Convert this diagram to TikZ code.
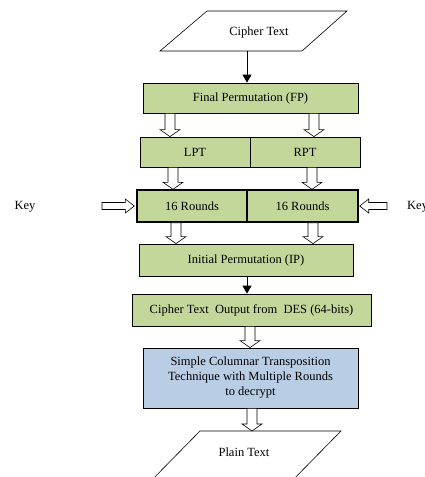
\documentclass[tikz,border=0pt]{standalone}
\usepackage{fontspec}
\setmainfont{Liberation Serif}
\usetikzlibrary{calc,arrows.meta}
\definecolor{boxgreen}{HTML}{C4D79B}
\definecolor{boxblue}{HTML}{B9CDE5}
\newcommand\blockarrow[5]{%
  \coordinate (ba-h) at ($(#2)!#5!(#1)$);
  \filldraw[fill=white,line width=0.6pt]
    ($(#1)!#3!90:(#2)$) -- ($(ba-h)!#3!90:(#2)$) -- ($(ba-h)!#4!90:(#2)$) -- (#2)
    -- ($(ba-h)!#4!-90:(#2)$) -- ($(ba-h)!#3!-90:(#2)$) -- ($(#1)!#3!-90:(#2)$) -- cycle;}
\newcommand\vblock[2]{\blockarrow{#1}{#2}{5pt}{10pt}{7pt}}
\newcommand\hblock[2]{\blockarrow{#1}{#2}{3.5pt}{7pt}{9pt}}
\tikzset{
  txt/.style={font=\fontsize{12.5}{15}\selectfont, inner sep=0pt, align=center},
  gbox/.style={txt, draw, fill=boxgreen, line width=0.8pt},
  thickbox/.style={gbox, line width=1.4pt},
  bbox/.style={txt, draw, fill=boxblue, line width=0.8pt},
  slim/.style={-{Triangle[length=8pt,width=9pt]}, line width=0.8pt},
  shape outline/.style={draw, line width=0.6pt}
}
\begin{document}
\begin{tikzpicture}[x=1pt,y=-1pt]
\useasboundingbox (0,0) rectangle (425,477);
\clip (0,0) rectangle (425,477);
% Cipher text parallelogram
\draw[shape outline] (207,11) -- (347,11) -- (302,51) -- (160,51) -- cycle;
\node[txt] (cipher) at (259,32) {Cipher Text};
\coordinate (cipherout) at (247,51);
% boxes
\node[gbox, minimum width=215, minimum height=30] (fp) at (250.5,98) {Final Permutation (FP)};
\node[gbox, minimum width=110, minimum height=30] (lpt) at (195,152) {LPT};
\node[gbox, minimum width=110, minimum height=30] (rpt) at (305,152) {RPT};
\node[thickbox, minimum width=110, minimum height=32] (r1) at (192,206) {16 Rounds};
\node[thickbox, minimum width=111, minimum height=32] (r2) at (302.5,206) {16 Rounds};
\node[gbox, minimum width=214, minimum height=32] (ip) at (246,260) {Initial Permutation (IP)};
\node[gbox, minimum width=239, minimum height=32] (ct) at (251.5,310) {Cipher Text\ \ Output from\ \ DES (64-bits)};
\node[bbox, minimum width=215, minimum height=60] (blue) at (250.5,378)
  {Simple Columnar Transposition\\Technique with Multiple Rounds\\to decrypt};
% Plain text parallelogram
\draw[shape outline] (200,431) -- (341,431) -- (283,490) -- (142,490) -- cycle;
\node[txt] (plain) at (244,452) {Plain Text};
\coordinate (plaintop) at (270,431);
% keys
\node[txt] (keyl) at (25,207) {Key};
\node[txt, anchor=west] (keyr) at (407,207) {Key};
\coordinate (kls) at (102,206);
\coordinate (krs) at (387,206);
% connectors
\draw[slim] (cipherout) -- (cipherout |- fp.north);
\coordinate (a1) at ([xshift=-80.5pt]fp.south);
\coordinate (a2) at ([xshift=63.5pt]fp.south);
\vblock{a1}{a1 |- lpt.north}
\vblock{a2}{a2 |- rpt.north}
\coordinate (b1) at ([xshift=-22pt]lpt.south);
\coordinate (b2) at ([xshift=7pt]rpt.south);
\vblock{b1}{b1 |- r1.north}
\vblock{b2}{b2 |- r2.north}
\coordinate (c1) at ([xshift=-16pt]r1.south);
\coordinate (c2) at ([xshift=10.5pt]r2.south);
\vblock{c1}{c1 |- ip.north}
\vblock{c2}{c2 |- ip.north}
\coordinate (d1) at ([xshift=1pt]ip.south);
\draw[slim] (d1) -- (d1 |- ct.north);
\coordinate (e1) at ([xshift=-1.5pt]ct.south);
\vblock{e1}{e1 |- blue.north}
\coordinate (f1) at ([xshift=1.5pt]blue.south);
\vblock{f1}{f1 |- plaintop}
\coordinate (kle) at ([xshift=-2pt]r1.west);
\coordinate (kre) at ([xshift=1pt]r2.east);
\hblock{kls}{kls -| kle}
\hblock{krs}{krs -| kre}
\end{tikzpicture}
\end{document}
